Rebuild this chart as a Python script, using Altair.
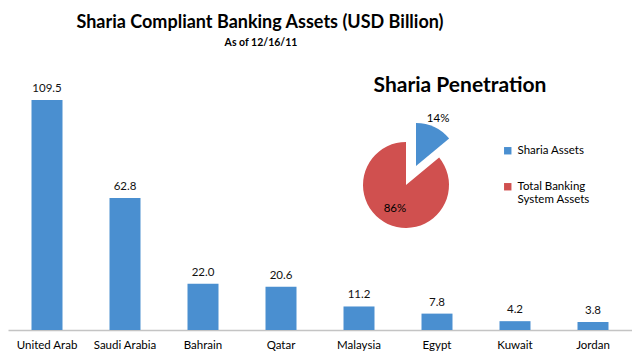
import altair as alt
import pandas as pd

# ---- data ----
countries = ["United Arab", "Saudi Arabia", "Bahrain", "Qatar", "Malaysia", "Egypt", "Kuwait", "Jordan"]
assets = [109.5, 62.8, 22.0, 20.6, 11.2, 7.8, 4.2, 3.8]
pie_segments = ["Sharia Assets", "Total Banking System Assets"]
pie_shares = [14, 86]
main_title = "Sharia Compliant Banking Assets (USD Billion)"
sub_title = "As of 12/16/11"
pie_title = "Sharia Penetration"

BLUE = "#4a8fd0"
RED = "#d0504f"
FONT = "Lato"

bars_df = pd.DataFrame({"country": countries, "assets": assets})
pie_df = pd.DataFrame({"segment": pie_segments, "share": pie_shares, "order": list(range(len(pie_shares)))})

x = alt.X(
    "country:N", sort=countries,
    scale=alt.Scale(paddingInner=0, paddingOuter=0),
    axis=alt.Axis(title=None, ticks=False, domainColor="#c4c4c4", domainWidth=1.5,
                  labelAngle=0, labelFont=FONT, labelFontSize=11.5, labelColor="#000",
                  labelPadding=9),
)
y = alt.Y("assets:Q", scale=alt.Scale(domain=[0, 153.3], nice=False), axis=None)

bars = alt.Chart(bars_df).mark_bar(size=31, color=BLUE).encode(x=x, y=y)
bar_text = alt.Chart(bars_df).mark_text(
    baseline="bottom", dy=-6, font=FONT, fontSize=11.5, color="#111"
).encode(x=x, y=y, text=alt.Text("assets:Q", format=".1f"))

pie_base = (
    alt.Chart(pie_df)
    .transform_window(cum="sum(share)", sort=[alt.SortField("order")], frame=[None, 0])
    .transform_joinaggregate(total="sum(share)")
    .transform_calculate(t1="2*PI*(datum.cum-datum.share)/datum.total")
    .transform_calculate(t2="2*PI*datum.cum/datum.total")
    .transform_calculate(tm="(datum.t1+datum.t2)/2")
    .transform_calculate(lab="datum.share + '%'")
)

color = alt.Color(
    "segment:N",
    scale=alt.Scale(domain=pie_segments, range=[BLUE, RED]),
    legend=alt.Legend(
        title=None, orient="none", legendX=494, legendY=137,
        symbolType="square", symbolSize=55, symbolStrokeWidth=0,
        labelFont=FONT, labelFontSize=11.5, labelColor="#000",
        rowPadding=23, labelOffset=4,
        labelExpr="datum.label == 'Total Banking System Assets' ? ['Total Banking', 'System Assets'] : datum.label",
    ),
)

red_arc = pie_base.transform_filter("datum.order == 1").mark_arc(radius=43).encode(
    theta=alt.Theta("t1:Q", scale=None), theta2="t2:Q", color=color,
    x=alt.value(398), y=alt.value(177),
)
blue_arc = pie_base.transform_filter("datum.order == 0").mark_arc(radius=43).encode(
    theta=alt.Theta("t1:Q", scale=None), theta2="t2:Q", color=color,
    x=alt.value(408), y=alt.value(158),
)
blue_lab = pie_base.transform_filter("datum.order == 0").mark_text(
    radius=52, font=FONT, fontSize=11.5, color="#000"
).encode(theta=alt.Theta("tm:Q", scale=None), text="lab:N", x=alt.value(408), y=alt.value(158))
red_lab = pie_base.transform_filter("datum.order == 1").mark_text(
    radius=26, font=FONT, fontSize=11.5, color="#000"
).encode(theta=alt.Theta("tm:Q", scale=None), text="lab:N", x=alt.value(398), y=alt.value(177))

t_main = alt.Chart(pd.DataFrame({"t": [main_title]})).mark_text(
    font=FONT, fontSize=18, fontWeight="bold", color="#000"
).encode(text="t:N", x=alt.value(252), y=alt.value(15))
t_sub = alt.Chart(pd.DataFrame({"t": [sub_title]})).mark_text(
    font=FONT, fontSize=10.5, fontWeight="bold", color="#000"
).encode(text="t:N", x=alt.value(253), y=alt.value(35))
t_pie = alt.Chart(pd.DataFrame({"t": [pie_title]})).mark_text(
    font=FONT, fontSize=21, fontWeight="bold", color="#000"
).encode(text="t:N", x=alt.value(452), y=alt.value(78))

chart = alt.layer(
    bars, bar_text, red_arc, blue_arc, blue_lab, red_lab, t_main, t_sub, t_pie
).properties(
    width=624, height=322,
    autosize=alt.AutoSizeParams(type="none"),
    padding={"left": 0, "top": 0, "right": 0, "bottom": 22},
    background="white",
).configure_view(stroke=None)

chart.save("out.html", embed_options={"renderer": "svg", "actions": False})
